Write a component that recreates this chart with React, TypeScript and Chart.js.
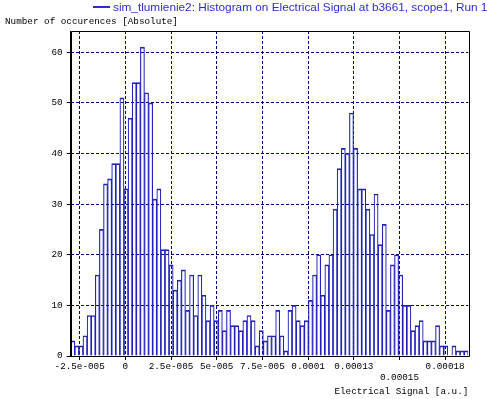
import { useEffect, useRef } from 'react';
import { Chart, registerables } from 'chart.js';

Chart.register(...registerables);

const seriesLabel = 'sim_tlumienie2: Histogram on Electrical Signal at b3661, scope1, Run 10';
const yAxisTitle = 'Number of occurences [Absolute]';
const xAxisTitle = 'Electrical Signal [a.u.]';

// histogram binning (lower edge of first bin, bin width)
const binStart = -2.99e-5;
const binWidth = 2.243e-6;

// counts per bin
const counts = [
  3, 2, 2, 4, 8, 8, 16, 25, 34, 35,
  38, 38, 51, 33, 47, 54, 54, 61, 52, 50,
  31, 33, 21, 21, 18, 13, 15, 17, 9, 16,
  8, 16, 12, 7, 10, 7, 9, 5, 9, 6,
  6, 5, 7, 8, 7, 2, 5, 3, 4, 4,
  9, 4, 1, 9, 10, 7, 6, 7, 11, 16,
  20, 12, 18, 20, 29, 37, 41, 40, 48, 41,
  33, 33, 29, 24, 32, 22, 26, 9, 18, 20,
  16, 10, 10, 5, 6, 7, 3, 3, 3, 6,
  2, 2, 0, 2, 1, 1, 1,
];

const xTickValues = [-2.5e-5, 0, 2.5e-5, 5e-5, 7.5e-5, 1e-4, 1.25e-4, 1.5e-4, 1.75e-4];
const xTickLabels = ['-2.5e-005', '0', '2.5e-005', '5e-005', '7.5e-005', '0.0001', '0.00013', '0.00015', '0.00018'];
const xTickOnSecondRow = [false, false, false, false, false, false, false, true, false];
const yTickValues = [0, 10, 20, 30, 40, 50, 60];

const xMin = binStart;
const xMax = binStart + counts.length * binWidth;
const yMin = 0;
const yMax = 64.2;

const MONO = '"Liberation Mono", "DejaVu Sans Mono", monospace';
const BLUE = '#2222bb';
const GRID = '#00007a';

const decorPlugin = {
  id: 'decor',
  afterDraw(chart: any) {
    const { ctx, chartArea: a } = chart;
    ctx.save();
    // frame
    ctx.strokeStyle = '#000';
    ctx.lineWidth = 1;
    ctx.setLineDash([]);
    ctx.beginPath();
    ctx.rect(Math.round(a.left) + 0.5, Math.round(a.top) + 0.5, Math.round(a.right - a.left), Math.round(a.bottom - a.top));
    ctx.stroke();
    // legend entry
    const label = chart.data.datasets[0].label;
    ctx.strokeStyle = '#2d2dd2';
    ctx.lineWidth = 2;
    ctx.beginPath();
    ctx.moveTo(93, 7);
    ctx.lineTo(110, 7);
    ctx.stroke();
    ctx.fillStyle = '#2d2dd2';
    ctx.font = '11.8px "Liberation Sans", Arial, sans-serif';
    ctx.textBaseline = 'middle';
    ctx.textAlign = 'left';
    ctx.fillText(label, 113, 7.5);
    // y axis title (horizontal, top-left)
    ctx.fillStyle = '#000';
    ctx.font = '9.3px ' + MONO;
    ctx.fillText(yAxisTitle, 5, 22);
    ctx.restore();
  },
};

export default function App() {
  const ref = useRef<HTMLCanvasElement | null>(null);

  useEffect(() => {
    if (!ref.current) return;
    const chart = new Chart(ref.current, {
      type: 'bar',
      data: {
        datasets: [
          {
            label: seriesLabel,
            data: counts.map((c, i) => ({ x: binStart + (i + 0.5) * binWidth, y: c })),
            backgroundColor: 'rgba(0,0,0,0)',
            borderColor: BLUE,
            borderWidth: { top: 1, left: 0.5, right: 0.5, bottom: 0 } as any,
            borderSkipped: false,
            barPercentage: 1,
            categoryPercentage: 1,
          },
        ],
      },
      options: {
        animation: false,
        responsive: false,
        events: [],
        layout: { padding: { left: 0, right: 18.7, top: 31, bottom: 0 } },
        plugins: {
          legend: { display: false },
          tooltip: { enabled: false },
        },
        scales: {
          x: {
            type: 'linear',
            min: xMin,
            max: xMax,
            offset: false,
            afterFit: (s: any) => { s.height = 43; },
            afterBuildTicks: (s: any) => { s.ticks = xTickValues.map((v) => ({ value: v })); },
            grid: {
              offset: false,
              color: GRID,
              lineWidth: 1,
              tickLength: 4,
              tickColor: '#000',
              tickBorderDash: [],
            } as any,
            border: { display: true, color: '#000', width: 1, dash: [3, 2] },
            ticks: {
              autoSkip: false,
              maxRotation: 0,
              minRotation: 0,
              padding: 1,
              color: '#000',
              font: { family: MONO, size: 9.3, lineHeight: 1.15 },
              callback: (_v: any, i: number) => (xTickOnSecondRow[i] ? ['', xTickLabels[i]] : xTickLabels[i]),
            },
            title: {
              display: true,
              text: xAxisTitle,
              align: 'end',
              color: '#000',
              font: { family: MONO, size: 9.3 },
              padding: { top: 0, bottom: 2 },
            },
          },
          y: {
            type: 'linear',
            min: yMin,
            max: yMax,
            afterFit: (s: any) => { s.width = 70.7; },
            afterBuildTicks: (s: any) => { s.ticks = yTickValues.map((v) => ({ value: v })); },
            grid: {
              color: GRID,
              lineWidth: 1,
              tickLength: 4,
              tickColor: '#000',
              tickBorderDash: [],
            } as any,
            border: { display: true, color: '#000', width: 1, dash: [3, 2] },
            ticks: {
              padding: 4,
              color: '#000',
              font: { family: MONO, size: 9.3 },
            },
          },
        },
      },
      plugins: [decorPlugin],
    });
    return () => chart.destroy();
  }, []);

  return (
    <div style={{ position: 'absolute', left: 0, top: 0, width: 487, height: 399, background: '#fff' }}>
      <canvas ref={ref} width={487} height={399} />
    </div>
  );
}
